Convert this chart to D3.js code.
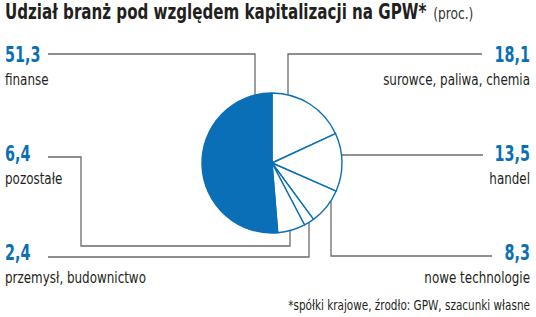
<!DOCTYPE html>
<html>
<head>
<meta charset="utf-8">
<script src="https://cdn.jsdelivr.net/npm/d3@7/dist/d3.min.js"></script>
<style>
  html, body { margin: 0; padding: 0; background: #fff; }
  svg text { font-family: "Liberation Sans Narrow", "DejaVu Sans Condensed", "Roboto", sans-serif; }
</style>
</head>
<body>
<svg id="chart" width="536" height="317"></svg>
<script>
// ---- data ----
const categories = ["surowce, paliwa, chemia", "handel", "nowe technologie", "przemysł, budownictwo", "pozostałe", "finanse"];
const values = [18.1, 13.5, 8.3, 2.4, 6.4, 51.3];
const valueLabels = ["18,1", "13,5", "8,3", "2,4", "6,4", "51,3"];
const highlighted = ["finanse"];
const title = "Udział branż pod względem kapitalizacji na GPW*";
const titleUnit = "(proc.)";
const footnote = "*spółki krajowe, źrodło: GPW, szacunki własne";

// ---- layout ----
const W = 536, H = 317;
const cx = 272, cy = 163, R = 70;
const blue = "#0a6fb7", grey = "#6b6b6b", ink = "#231f20";
const squeezeF = 0.83, valueF = 0.76;

const slots = {
  "finanse":                {side: "L", vy: 62,  cy: 85,  ly: 54,  vx: 255, lineEnd: 48},
  "pozostałe":              {side: "L", vy: 161, cy: 184, ly: 157, vx: 290, lineEnd: 48, jogX: 81, jogY: 246},
  "przemysł, budownictwo":  {side: "L", vy: 260, cy: 283, ly: 257, vx: 309, lineEnd: 48},
  "surowce, paliwa, chemia":{side: "R", vy: 62,  cy: 85,  ly: 54,  vx: 288, lineEnd: 482},
  "handel":                 {side: "R", vy: 161, cy: 184, ly: 155, vx: null, lineEnd: 483},
  "nowe technologie":       {side: "R", vy: 260, cy: 283, ly: 256, vx: 331, lineEnd: 492}
};

const svg = d3.select("#chart");

// horizontally condensed text via transform
function ctext(x, y, f, anchor, str) {
  return svg.append("text")
    .attr("transform", `translate(${x},${y}) scale(${f},1)`)
    .attr("text-anchor", anchor || "start")
    .text(str);
}
function width(sel, f) { return sel.node().getComputedTextLength() * f; }

// title
const t1 = ctext(5, 19, 0.8, "start", title)
  .attr("font-weight", "bold").attr("font-size", 21).attr("fill", ink);
const tw = width(t1, 0.8);
ctext(5 + tw + 7, 19, 0.85, "start", titleUnit)
  .attr("font-size", 16).attr("fill", "#333");

// pie
const pie = d3.pie().sort(null).value(d => d.v).startAngle(0).endAngle(2 * Math.PI);
const arc = d3.arc().innerRadius(0).outerRadius(R);
const data = categories.map((c, i) => ({c, v: values[i], lab: valueLabels[i]}));
const arcs = pie(data);

// leader lines
const lineG = svg.append("g").attr("fill", "none").attr("stroke", grey).attr("stroke-width", 1.3);
arcs.forEach(a => {
  const s = slots[a.data.c];
  let pts;
  if (s.vx === null) {
    const dy = s.ly - cy;
    const ex = cx + Math.sqrt(R * R - dy * dy);
    pts = [[s.lineEnd, s.ly], [ex, s.ly]];
  } else {
    const dx = s.vx - cx;
    const mid = (a.startAngle + a.endAngle) / 2;
    const sign = Math.cos(mid) > 0 ? -1 : 1;
    const ey = cy + sign * Math.sqrt(R * R - dx * dx);
    if (s.jogX) {
      pts = [[s.lineEnd, s.ly], [s.jogX, s.ly], [s.jogX, s.jogY], [s.vx, s.jogY], [s.vx, ey]];
    } else {
      pts = [[s.lineEnd, s.ly], [s.vx, s.ly], [s.vx, ey]];
    }
  }
  lineG.append("path").attr("d", d3.line()(pts));
});

const pieG = svg.append("g").attr("transform", `translate(${cx},${cy})`);
pieG.selectAll("path").data(arcs).join("path")
  .attr("d", arc)
  .attr("fill", d => highlighted.includes(d.data.c) ? blue : "#fff")
  .attr("stroke", blue)
  .attr("stroke-width", 1.4)
  .attr("stroke-linejoin", "round");

// labels
arcs.forEach(a => {
  const s = slots[a.data.c];
  const x = s.side === "L" ? 5 : 530;
  const anchor = s.side === "L" ? "start" : "end";
  ctext(x, s.vy, valueF, anchor, a.data.lab)
    .attr("font-weight", "bold").attr("font-size", 21).attr("fill", blue);
  ctext(x, s.cy, squeezeF, anchor, a.data.c)
    .attr("font-size", 16).attr("fill", ink);
});

// footnote
ctext(530, 310, squeezeF, "end", footnote)
  .attr("font-size", 14).attr("fill", ink);
</script>
</body>
</html>
